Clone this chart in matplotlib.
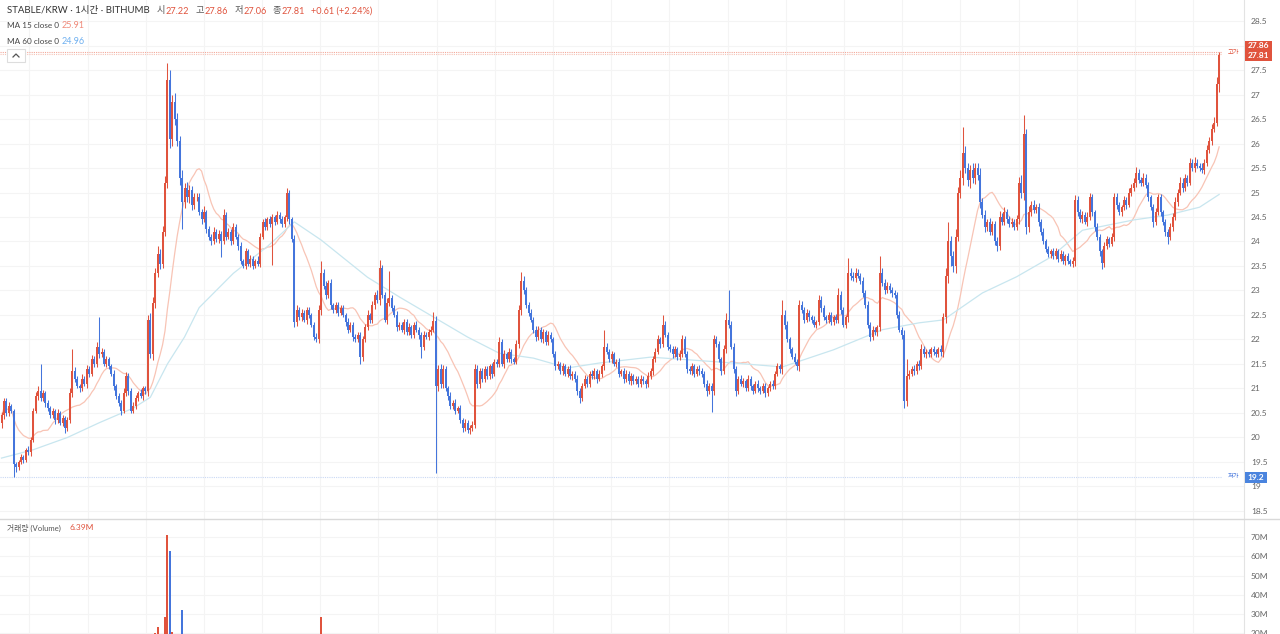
import matplotlib
matplotlib.use("Agg")
import matplotlib.pyplot as plt
from matplotlib.lines import Line2D
from matplotlib.patches import Rectangle
import numpy as np
import pandas as pd

# --- data (1h candles, STABLE/KRW) ---------------------------------------
first_open = 20.3
closes = [
    20.45, 20.75, 20.5, 20.65, 20.55, 19.45, 19.4, 19.5, 19.6, 19.55, 19.75, 19.7, 19.95, 20.55, 20.85, 20.95, 20.8, 20.9, 20.7, 20.6,
    20.45, 20.55, 20.35, 20.5, 20.3, 20.4, 20.2, 20.35, 20.9, 21.35, 21.2, 21.05, 21.0, 21.2, 21.1, 21.4, 21.3, 21.6, 21.5, 21.85,
    21.7, 21.75, 21.5, 21.6, 21.45, 21.3, 21.05, 20.85, 20.7, 20.55, 20.9, 21.25, 20.95, 20.55, 20.65, 20.8, 20.9, 20.85, 21.0, 20.95,
    22.4, 21.7, 22.75, 23.35, 23.75, 23.55, 24.2, 25.2, 27.3, 26.1, 26.85, 26.5, 26.05, 25.3, 24.8, 25.1, 24.9, 25.05, 24.75, 24.9,
    24.9, 24.6, 24.45, 24.6, 24.25, 24.1, 24.0, 24.2, 24.05, 24.15, 24.0, 24.55, 24.1, 24.2, 24.0, 24.3, 24.1, 23.9, 23.6, 23.5,
    23.8, 23.55, 23.65, 23.5, 23.6, 23.55, 24.1, 24.4, 24.3, 24.45, 24.35, 24.5, 24.4, 24.55, 24.45, 24.35, 24.5, 25.0, 24.45, 24.05,
    22.35, 22.6, 22.45, 22.55, 22.4, 22.6, 22.5, 22.3, 22.05, 22.0, 22.6, 23.35, 23.1, 22.9, 23.15, 22.7, 22.6, 22.7, 22.55, 22.65,
    22.5, 22.35, 22.2, 22.3, 22.05, 22.0, 22.1, 21.65, 22.0, 22.25, 22.5, 22.4, 22.7, 22.9, 22.8, 23.45, 22.9, 22.4, 22.75, 22.85,
    22.65, 22.5, 22.25, 22.3, 22.2, 22.35, 22.15, 22.25, 22.1, 22.3, 22.2, 22.1, 21.85, 22.1, 22.05, 22.15, 22.2, 22.38, 21.05, 21.4,
    21.1, 21.4, 21.0, 20.85, 20.65, 20.7, 20.55, 20.6, 20.35, 20.2, 20.3, 20.15, 20.2, 20.25, 21.4, 21.1, 21.35, 21.2, 21.4, 21.25,
    21.45, 21.3, 21.55, 21.5, 21.95, 21.5, 21.7, 21.6, 21.75, 21.6, 21.55, 21.9, 22.6, 23.2, 23.0, 22.7, 22.55, 22.4, 22.2, 22.05,
    22.2, 22.0, 22.15, 21.95, 22.1, 22.0, 21.7, 21.45, 21.5, 21.35, 21.45, 21.3, 21.4, 21.25, 21.3, 21.2, 20.95, 20.8, 21.05, 21.2,
    21.1, 21.3, 21.25, 21.35, 21.2, 21.3, 21.45, 21.85, 21.75, 21.6, 21.7, 21.5, 21.55, 21.3, 21.35, 21.2, 21.3, 21.15, 21.25, 21.15,
    21.2, 21.1, 21.2, 21.15, 21.1, 21.25, 21.35, 21.6, 21.75, 22.0, 21.9, 22.3, 22.1, 21.85, 21.8, 21.7, 21.8, 21.65, 21.7, 22.0,
    21.7, 21.4, 21.35, 21.45, 21.3, 21.4, 21.35, 21.3, 21.1, 20.95, 21.05, 20.95, 22.0, 21.9, 21.6, 21.35, 21.8, 22.4, 22.3, 21.85,
    21.4, 20.95, 21.2, 21.1, 21.15, 21.0, 21.2, 21.05, 20.95, 21.1, 21.0, 20.95, 21.05, 20.9, 21.0, 21.1, 21.05, 21.3, 21.45, 21.4,
    22.5, 22.3, 22.0, 21.8, 21.65, 21.55, 21.45, 22.7, 22.6, 22.4, 22.55, 22.45, 22.4, 22.3, 22.35, 22.8, 22.65, 22.45, 22.4, 22.5,
    22.35, 22.45, 22.4, 22.9, 22.6, 22.3, 22.45, 23.35, 23.3, 23.25, 23.35, 23.3, 23.2, 22.95, 22.7, 22.3, 22.05, 22.2, 22.15, 22.25,
    23.35, 23.15, 23.0, 23.1, 23.0, 22.95, 22.9, 22.5, 22.2, 22.1, 20.75, 21.25, 21.3, 21.4, 21.35, 21.5, 21.45, 21.8, 21.7, 21.75,
    21.7, 21.8, 21.75, 21.7, 21.8, 21.75, 22.45, 23.3, 24.0, 23.7, 23.5, 24.1, 25.0, 25.3, 25.8, 25.5, 25.25, 25.45, 25.3, 25.5,
    25.35, 24.8, 24.55, 24.3, 24.4, 24.2, 24.35, 24.0, 23.9, 24.5, 24.4, 24.6, 24.45, 24.35, 24.4, 24.3, 24.45, 25.2, 25.0, 26.2,
    24.3, 24.6, 24.75, 24.65, 24.7, 24.4, 24.2, 24.0, 23.85, 23.75, 23.8, 23.7, 23.8, 23.65, 23.75, 23.6, 23.7, 23.6, 23.55, 23.6,
    24.85, 24.6, 24.45, 24.55, 24.4, 24.5, 24.9, 24.6, 24.3, 24.1, 23.8, 23.56, 23.9, 24.05, 23.95, 24.1, 24.9, 24.75, 24.6, 24.7,
    24.85, 24.75, 25.0, 25.1, 25.2, 25.4, 25.25, 25.2, 25.3, 25.15, 24.9, 24.7, 24.4, 24.6, 24.9, 24.6, 24.4, 24.2, 24.1, 24.3,
    24.5, 24.8, 25.0, 25.2, 25.1, 25.3, 25.2, 25.6, 25.5, 25.6, 25.55, 25.5, 25.45, 25.6, 25.87, 26.05, 26.3, 26.42, 27.22, 27.81,
]

# wick lengths above / below the body, in hundredths of KRW
wick_up_c = [
    8, 6, 5, 7, 4, 3, 5, 4, 6, 5, 4, 7, 5, 6, 8, 10, 55, 6, 5, 7,
    5, 6, 4, 8, 5, 6, 4, 7, 10, 45, 8, 6, 5, 9, 6, 7, 5, 8, 6, 10,
    60, 8, 6, 7, 5, 6, 8, 5, 6, 7, 10, 8, 6, 5, 7, 6, 5, 8, 6, 5,
    10, 15, 12, 10, 15, 10, 12, 14, 34, 20, 15, 18, 12, 10, 15, 10, 12, 10, 8, 10,
    8, 10, 6, 12, 5, 7, 6, 10, 5, 8, 6, 12, 5, 7, 6, 8, 5, 6, 8, 5,
    7, 5, 8, 6, 5, 10, 8, 6, 7, 5, 8, 6, 5, 7, 6, 8, 5, 10, 6, 5,
    8, 10, 6, 8, 5, 7, 6, 5, 6, 8, 10, 25, 8, 10, 6, 8, 5, 7, 6, 5,
    6, 5, 8, 6, 5, 7, 6, 5, 8, 6, 10, 5, 8, 6, 10, 17, 8, 6, 10, 55,
    6, 5, 8, 6, 5, 7, 6, 8, 5, 6, 7, 5, 6, 8, 5, 6, 7, 18, 10, 8,
    10, 8, 6, 5, 7, 6, 8, 5, 6, 5, 7, 5, 6, 8, 10, 8, 6, 7, 5, 6,
    6, 8, 5, 6, 10, 6, 8, 5, 7, 6, 5, 8, 10, 18, 10, 8, 6, 7, 5, 8,
    8, 6, 7, 5, 8, 6, 5, 7, 6, 5, 8, 6, 5, 7, 5, 6, 8, 5, 6, 8,
    6, 5, 7, 6, 5, 8, 6, 35, 8, 6, 7, 5, 6, 8, 5, 6, 7, 5, 6, 5,
    6, 5, 7, 6, 5, 8, 6, 7, 8, 10, 6, 20, 8, 6, 5, 7, 6, 5, 8, 10,
    8, 6, 5, 7, 6, 5, 7, 6, 5, 8, 6, 7, 10, 8, 6, 5, 8, 15, 60, 8,
    7, 6, 5, 8, 6, 5, 7, 6, 5, 6, 8, 5, 6, 7, 5, 6, 8, 6, 7, 5,
    30, 10, 8, 6, 5, 7, 6, 10, 8, 6, 7, 5, 6, 8, 5, 10, 8, 6, 5, 7,
    6, 5, 8, 15, 8, 6, 5, 31, 10, 8, 10, 8, 6, 7, 6, 8, 5, 7, 6, 5,
    35, 10, 8, 7, 6, 8, 6, 7, 8, 5, 10, 35, 8, 6, 7, 6, 8, 10, 6, 5,
    6, 5, 7, 6, 5, 8, 10, 15, 40, 12, 10, 15, 12, 15, 54, 15, 10, 12, 15, 10,
    10, 15, 8, 10, 6, 8, 7, 6, 10, 12, 8, 10, 6, 7, 8, 6, 10, 12, 15, 38,
    10, 12, 8, 10, 6, 8, 6, 7, 5, 6, 5, 7, 6, 5, 7, 6, 5, 6, 5, 8,
    10, 8, 6, 8, 6, 10, 8, 6, 5, 7, 6, 5, 8, 6, 5, 7, 10, 8, 6, 5,
    8, 6, 10, 8, 10, 12, 8, 6, 10, 8, 6, 5, 6, 8, 6, 7, 5, 6, 5, 8,
    8, 10, 8, 12, 10, 8, 6, 10, 8, 12, 8, 6, 10, 8, 10, 8, 10, 12, 13, 5,
]
wick_dn_c = [
    10, 8, 6, 7, 5, 25, 10, 6, 5, 8, 6, 5, 7, 5, 6, 8, 6, 5, 7, 6,
    6, 5, 8, 6, 5, 7, 10, 6, 5, 8, 6, 5, 7, 6, 5, 8, 6, 5, 7, 6,
    8, 6, 5, 7, 6, 5, 8, 6, 5, 10, 6, 5, 8, 6, 5, 7, 6, 5, 8, 6,
    10, 8, 12, 10, 8, 12, 10, 8, 10, 20, 15, 12, 10, 15, 55, 12, 10, 12, 10, 8,
    8, 6, 10, 5, 8, 6, 7, 5, 6, 8, 32, 6, 7, 5, 8, 6, 5, 7, 6, 5,
    6, 5, 7, 6, 5, 6, 8, 5, 6, 7, 5, 83, 6, 5, 7, 6, 5, 8, 10, 6,
    10, 8, 6, 7, 5, 8, 6, 5, 7, 6, 8, 10, 6, 8, 5, 7, 6, 5, 8, 6,
    5, 7, 6, 5, 8, 6, 5, 15, 8, 6, 5, 7, 6, 8, 5, 10, 6, 5, 8, 6,
    6, 5, 7, 6, 5, 8, 6, 5, 7, 6, 5, 8, 23, 6, 5, 7, 6, 5, 178, 10,
    8, 10, 6, 8, 7, 6, 8, 5, 6, 8, 6, 5, 7, 6, 5, 10, 8, 6, 7, 5,
    6, 8, 5, 7, 6, 5, 8, 6, 5, 7, 6, 5, 8, 10, 8, 6, 7, 5, 6, 8,
    6, 5, 8, 6, 7, 5, 6, 8, 5, 6, 7, 5, 6, 5, 7, 6, 8, 10, 6, 5,
    6, 7, 5, 6, 8, 5, 6, 7, 5, 6, 8, 5, 6, 7, 5, 8, 6, 5, 7, 6,
    5, 7, 6, 5, 8, 6, 5, 7, 6, 5, 8, 6, 5, 7, 6, 8, 5, 6, 7, 5,
    6, 8, 5, 7, 6, 5, 8, 6, 7, 10, 6, 43, 8, 6, 5, 7, 6, 8, 6, 5,
    8, 10, 6, 5, 7, 6, 5, 8, 6, 5, 7, 6, 5, 8, 6, 5, 7, 6, 5, 8,
    10, 8, 6, 7, 5, 6, 8, 10, 6, 7, 5, 8, 6, 5, 7, 6, 8, 5, 6, 7,
    6, 5, 7, 6, 8, 5, 6, 10, 8, 6, 7, 5, 6, 8, 6, 7, 8, 6, 5, 7,
    8, 6, 7, 5, 6, 8, 6, 7, 5, 8, 15, 10, 6, 5, 7, 6, 8, 5, 6, 7,
    6, 5, 7, 6, 5, 8, 10, 12, 15, 20, 12, 15, 10, 12, 15, 10, 12, 15, 10, 12,
    10, 12, 8, 10, 8, 6, 7, 8, 10, 8, 6, 7, 8, 6, 5, 7, 6, 10, 12, 15,
    15, 10, 8, 6, 7, 8, 6, 5, 7, 6, 8, 5, 6, 7, 5, 6, 8, 5, 6, 7,
    10, 8, 6, 7, 5, 8, 6, 7, 8, 6, 10, 12, 8, 6, 7, 5, 10, 8, 6, 7,
    6, 8, 5, 7, 6, 8, 5, 6, 7, 5, 8, 6, 10, 7, 6, 8, 6, 8, 15, 6,
    8, 6, 7, 5, 8, 6, 7, 5, 6, 8, 6, 7, 5, 8, 6, 7, 8, 6, 7, 16,
]

# MA 60 line (candle index, value)
ma60_idx = [0, 13, 27, 40, 54, 61, 68, 75, 81, 95, 109, 120, 131, 150, 163, 177, 191,
            204, 218, 232, 245, 266, 300, 320, 341, 361, 376, 386, 402, 416, 430, 443,
            464, 478, 491, 499]
ma60_val = [19.58, 19.75, 20.0, 20.3, 20.6, 20.82, 21.5, 22.05, 22.65, 23.35, 23.9, 24.4,
            24.03, 23.27, 22.87, 22.46, 22.05, 21.72, 21.62, 21.42, 21.52, 21.64, 21.52,
            21.44, 21.79, 22.2, 22.34, 22.4, 22.95, 23.28, 23.68, 24.23, 24.44, 24.54,
            24.7, 24.96]

# volume bars tall enough to show in the (cropped) volume pane, millions
vol_idx = [63, 64, 67, 68, 69, 70, 74, 131]
vol_m = [20.5, 23.5, 28.5, 71, 63, 21, 32, 28.5]

price_ticks = np.arange(18.5, 28.51, 0.5)
vol_ticks = [20, 30, 40, 50, 60, 70]

# header pieces after the title: (text, is_value)
header_parts = [("시", False), ("27.22", True), ("고", False), ("27.86", True),
                ("저", False), ("27.06", True), ("종", False), ("27.81", True),
                ("+0.61 (+2.24%)", True)]

RED = "#e0533d"
BLUE = "#4475dc"
FONT = ["Lato", "Noto Sans CJK KR", "DejaVu Sans"]
plt.rcParams["font.family"] = FONT

# --- derived OHLC ---------------------------------------------------------
c = np.array(closes)
o = np.concatenate([[first_open], c[:-1]])
hi = np.maximum(o, c) + np.array(wick_up_c) / 100
lo = np.minimum(o, c) - np.array(wick_dn_c) / 100
idx = np.arange(len(c))
up = c >= o
cols = np.where(up, RED, BLUE)
ma15 = pd.Series(c).rolling(15, min_periods=1).mean()

W, H = 1280, 634
fig = plt.figure(figsize=(W / 100, H / 100), dpi=100)
fig.patch.set_facecolor("white")


def fy(py):
    return 1 - py / H


ax = fig.add_axes([0, 115 / H, 1244 / W, 519 / H])
axv = fig.add_axes([0, -38 / H, 1244 / W, 153 / H], sharex=ax)

for a in (ax, axv):
    for s in ("top", "left", "bottom"):
        a.spines[s].set_visible(False)
    a.spines["right"].set_color("#e3e3e3")
    a.yaxis.tick_right()
    a.tick_params(axis="y", length=0, pad=5, labelsize=6.0, labelcolor="#666666")
    a.tick_params(axis="x", length=0, labelbottom=False)
    a.grid(True, color="#f4f4f4", lw=0.8)
    a.set_axisbelow(True)

grid_x = np.arange(11.4, 510, 23.85)
ax.set_xticks(grid_x)
ax.set_xlim(-0.615, 509.2)
ax.set_ylim(18.3367, 28.9286)
ax.set_yticks(price_ticks)
# the 28 label sits under the current-price boxes
ax.set_yticklabels(["" if t == 28 else f"{t:g}" for t in price_ticks])

# candles
ax.vlines(idx, lo, hi, colors=cols, lw=0.75, zorder=3)
ax.bar(idx, np.abs(c - o), bottom=np.minimum(o, c), width=0.82, color=cols,
       linewidth=0, zorder=4)
ax.plot(idx, ma15, color="#f8c4b5", lw=0.9, zorder=2)
ax.plot(ma60_idx, ma60_val, color="#c8e6ef", lw=0.9, zorder=2)

# high / low markers
ax.axhline(27.875, xmax=1222 / 1244, color="#f2a89a", lw=0.8, ls=(0, (1, 1)), zorder=1)
ax.axhline(27.835, xmax=1222 / 1244, color="#f6c4b8", lw=0.8, ls=(0, (1, 1)), zorder=1)
ax.axhline(19.2, xmax=1222 / 1244, color="#c9d8f4", lw=0.8, ls=(0, (1, 1)), zorder=1)
fig.text(1233 / W, fy(53), "고가", fontsize=4.5, color=RED, ha="center", va="center")
fig.text(1233 / W, fy(477), "저가", fontsize=4.5, color=BLUE, ha="center", va="center")

# volume pane
axv.set_ylim(0, 79.48)
axv.set_yticks(vol_ticks)
axv.set_yticklabels([f"{v}M" for v in vol_ticks])
vcols = [RED if up[i] else BLUE for i in vol_idx]
axv.bar(vol_idx, vol_m, width=0.82, color=vcols, linewidth=0, zorder=3)

fig.add_artist(Line2D([0, 1], [fy(519), fy(519)], color="#d9d9d9", lw=1.0))

# price label boxes on the right axis
fig.add_artist(Rectangle((1245 / W, fy(51)), 27 / W, 10 / H, fc=RED, lw=0))
fig.add_artist(Rectangle((1245 / W, fy(61)), 27 / W, 10 / H, fc=RED, lw=0))
fig.add_artist(Rectangle((1245 / W, fy(483)), 22 / W, 11 / H, fc="#4a84de", lw=0))
fig.text(1258.5 / W, fy(46), "27.86", fontsize=6.0, color="white", fontweight="bold",
         ha="center", va="center")
fig.text(1258.5 / W, fy(56), "27.81", fontsize=6.0, color="white", fontweight="bold",
         ha="center", va="center")
fig.text(1256 / W, fy(477.5), "19.2", fontsize=6.0, color="white", fontweight="bold",
         ha="center", va="center")

# header: title, then O/H/L/C chained after it
prev = fig.text(7 / W, fy(11), "STABLE/KRW · 1시간 · BITHUMB", fontsize=6.9,
                color="#333333", va="center")
prev_is_val = False
for k, (s, is_val) in enumerate(header_parts):
    if k == 0:
        gap = 5
    elif is_val and not prev_is_val:
        gap = 0.5
    else:
        gap = 4.5
    prev = ax.annotate(s, xy=(1, 0.5), xycoords=prev, xytext=(gap, 0),
                       textcoords="offset points", va="center", ha="left",
                       fontsize=6.6, color=RED if is_val else "#555555",
                       annotation_clip=False)
    prev_is_val = is_val

fig.text(7 / W, fy(26), "MA 15 close 0", fontsize=5.9, color="#444444", va="center")
fig.text(62 / W, fy(26), "25.91", fontsize=6.5, color="#f08a7a", va="center")
fig.text(7 / W, fy(41), "MA 60 close 0", fontsize=5.9, color="#444444", va="center")
fig.text(62 / W, fy(41), "24.96", fontsize=6.5, color="#6fb0f0", va="center")

# collapse button
fig.add_artist(Rectangle((7 / W, fy(62)), 18 / W, 13 / H, fc="white", ec="#dddddd", lw=0.8))
fig.add_artist(Line2D([13 / W, 16 / W, 19 / W], [fy(57), fy(54), fy(57)],
                      color="#555555", lw=0.9))

fig.text(7 / W, fy(528), "거래량 (Volume)", fontsize=5.6, color="#555555", va="center")
fig.text(69 / W, fy(528), "6.39M", fontsize=6.0, color=RED, va="center")

fig.savefig("out.png", dpi=100, facecolor="white")
